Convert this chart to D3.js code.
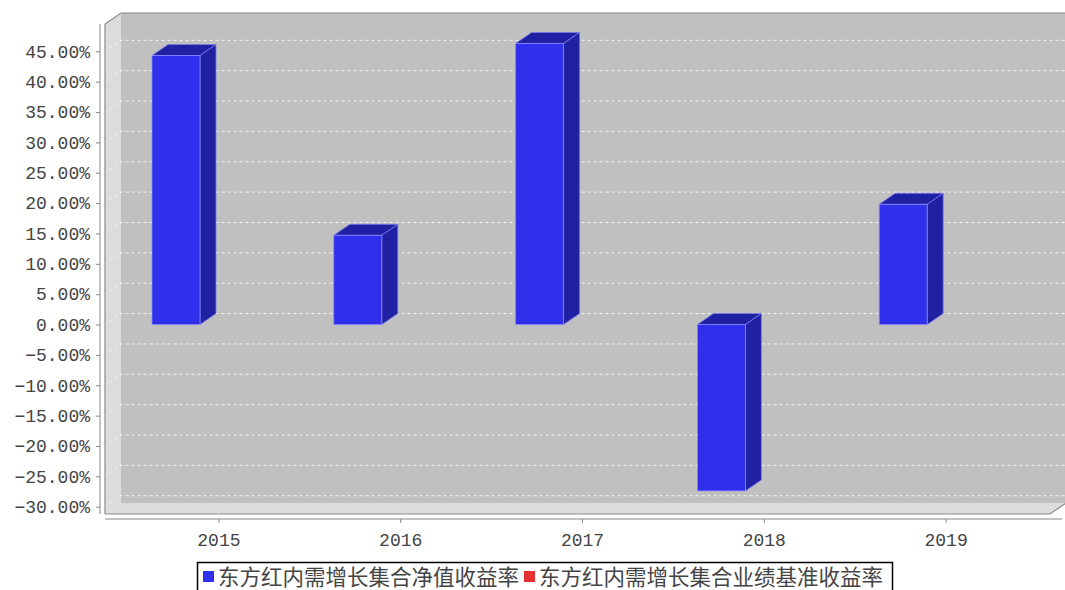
<!DOCTYPE html>
<html>
<head>
<meta charset="utf-8">
<script src="https://cdn.jsdelivr.net/npm/d3@7"></script>
<style>
  html, body { margin: 0; padding: 0; background: #fff; }
  svg { display: block; }
</style>
</head>
<body>
<svg id="chart" width="1065" height="590"></svg>
<script>
// Chart data
const years = ['2015', '2016', '2017', '2018', '2019'];
const seriesNames = ['东方红内需增长集合净值收益率', '东方红内需增长集合业绩基准收益率'];
const seriesColors = ['#2f2fec', '#e83030'];
const navReturn = [44.3, 14.7, 46.3, -27.4, 19.8];
const benchReturn = [null, null, null, null, null];
const yTicks = [45, 40, 35, 30, 25, 20, 15, 10, 5, 0, -5, -10, -15, -20, -25, -30];

// 3D depth offsets
const DX = 16;
const DY = 11;
const PLOT = { left: 105, right: 1050, top: 24, bottom: 514 };

const svg = d3.select('#chart');

const y = d3.scaleLinear().domain([-31.2, 49.5]).range([PLOT.bottom, PLOT.top]);
const x0 = d3.scaleBand().domain(years).range([128, 1037]);
const x1 = d3.scaleBand().domain([0, 1]).range([24, 158]).paddingInner(0.442);

// walls
svg.append('rect')
    .attr('x', PLOT.left + DX).attr('y', PLOT.top - DY)
    .attr('width', PLOT.right - PLOT.left + 10).attr('height', PLOT.bottom - PLOT.top)
    .attr('fill', '#c0c0c0');

svg.append('path')
    .attr('d', `M${PLOT.left},${PLOT.top}L${PLOT.left + DX},${PLOT.top - DY}L${PLOT.left + DX},${PLOT.bottom - DY}L${PLOT.left},${PLOT.bottom}Z`)
    .attr('fill', '#dcdcdc');

svg.append('path')
    .attr('d', `M${PLOT.left},${PLOT.bottom}L${PLOT.left + DX},${PLOT.bottom - DY}L${PLOT.right + DX},${PLOT.bottom - DY}L${PLOT.right},${PLOT.bottom}Z`)
    .attr('fill', '#dcdcdc');

// gridlines on the back wall
svg.append('g').selectAll('path')
    .data(yTicks)
    .join('path')
    .attr('d', d => `M${PLOT.left},${y(d)}L${PLOT.left + DX},${y(d) - DY}L${PLOT.right + DX + 10},${y(d) - DY}`)
    .attr('fill', 'none')
    .attr('stroke', '#f4f4f4')
    .attr('stroke-width', 1)
    .attr('stroke-dasharray', '3,3');

// outline of the plot
svg.append('path')
    .attr('d', `M${PLOT.left},${PLOT.bottom}L${PLOT.left},${PLOT.top}L${PLOT.left + DX},${PLOT.top - DY}L${PLOT.right + DX + 10},${PLOT.top - DY}`
        + `M${PLOT.left},${PLOT.bottom}L${PLOT.right},${PLOT.bottom}L${PLOT.right + DX},${PLOT.bottom - DY}`)
    .attr('fill', 'none')
    .attr('stroke', '#8a8a8a')
    .attr('stroke-width', 1.2);

// bars
const series = [navReturn, benchReturn];
const bars = [];
series.forEach((vals, si) => {
    vals.forEach((v, i) => {
        if (v === null) return;
        bars.push({ year: years[i], value: v, si });
    });
});

const barG = svg.append('g').selectAll('g')
    .data(bars)
    .join('g');

function barGeom(d) {
    const x = x0(d.year) + x1(d.si);
    const w = x1.bandwidth();
    const yt = y(Math.max(d.value, 0));
    const yb = y(Math.min(d.value, 0));
    return { x, w, yt, yb };
}

const sideColor = c => d3.color(c).darker(1.05).formatHex();

barG.append('path')
    .attr('d', d => {
        const g = barGeom(d);
        return `M${g.x},${g.yt}L${g.x + DX},${g.yt - DY}L${g.x + g.w + DX},${g.yt - DY}L${g.x + g.w},${g.yt}Z`;
    })
    .attr('fill', d => sideColor(seriesColors[d.si]))
    .attr('stroke', '#7878f0')
    .attr('stroke-width', 0.8);

barG.append('path')
    .attr('d', d => {
        const g = barGeom(d);
        return `M${g.x + g.w},${g.yt}L${g.x + g.w + DX},${g.yt - DY}L${g.x + g.w + DX},${g.yb - DY}L${g.x + g.w},${g.yb}Z`;
    })
    .attr('fill', d => sideColor(seriesColors[d.si]))
    .attr('stroke', '#7878f0')
    .attr('stroke-width', 0.8);

barG.append('rect')
    .attr('x', d => barGeom(d).x)
    .attr('y', d => barGeom(d).yt)
    .attr('width', x1.bandwidth())
    .attr('height', d => barGeom(d).yb - barGeom(d).yt)
    .attr('fill', d => seriesColors[d.si])
    .attr('stroke', '#8a8aff')
    .attr('stroke-width', 0.8);

// y axis
const yAxis = svg.append('g')
    .attr('transform', 'translate(100,0)')
    .call(d3.axisLeft(y).tickValues(yTicks).tickSize(4).tickPadding(6)
        .tickFormat(d => d3.format('.2f')(d) + '%'));
yAxis.select('.domain').attr('stroke', '#888').attr('d', `M0,${PLOT.top}V${PLOT.bottom}`);
yAxis.selectAll('.tick line').attr('stroke', '#888');
yAxis.selectAll('.tick text')
    .attr('fill', '#444')
    .style('font-family', '"Liberation Mono", "DejaVu Sans Mono", monospace')
    .style('font-size', '18px');

// x axis
const xAxis = svg.append('g')
    .attr('transform', 'translate(0,519)')
    .call(d3.axisBottom(x0).tickSize(4).tickPadding(10));
xAxis.select('.domain').attr('stroke', '#888').attr('d', `M${PLOT.left},0H1062`);
xAxis.selectAll('.tick line').attr('stroke', '#888');
xAxis.selectAll('.tick text')
    .attr('fill', '#444')
    .style('font-family', '"Liberation Mono", "DejaVu Sans Mono", monospace')
    .style('font-size', '18px');

// legend
const legend = svg.append('g');
legend.append('rect')
    .attr('x', 197.5).attr('y', 562.5)
    .attr('width', 695).attr('height', 34)
    .attr('fill', '#fff')
    .attr('stroke', '#000')
    .attr('stroke-width', 1.5);

const legendX = [203, 524];
const items = legend.selectAll('g.item')
    .data(seriesNames)
    .join('g')
    .attr('class', 'item')
    .attr('transform', (d, i) => `translate(${legendX[i]},0)`);

items.append('rect')
    .attr('x', 0).attr('y', 571)
    .attr('width', 11).attr('height', 11)
    .attr('fill', (d, i) => seriesColors[i]);

items.append('text')
    .attr('x', 15).attr('y', 585)
    .attr('fill', '#444')
    .style('font-family', '"Noto Sans CJK SC", sans-serif')
    .style('font-size', '21.5px')
    .text(d => d);
</script>
</body>
</html>
